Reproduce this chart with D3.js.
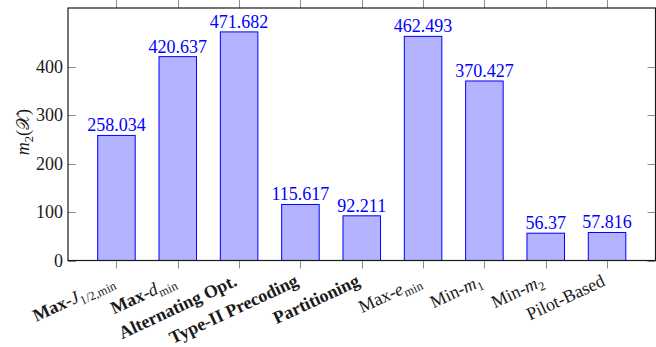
<!DOCTYPE html>
<html>
<head>
<meta charset="utf-8">
<script src="https://cdn.jsdelivr.net/npm/d3@7"></script>
<style>
  html, body { margin: 0; padding: 0; background: #fff; }
</style>
</head>
<body>
<svg id="chart" width="656" height="347"></svg>
<script>
// Second moment m2(X) per constellation design method
const categories = ["maxJ", "maxD", "altOpt", "typeII", "partition", "maxE", "minM1", "minM2", "pilot"];
const values = [258.034, 420.637, 471.682, 115.617, 92.211, 462.493, 370.427, 56.37, 57.816];
const valueLabels = ["258.034", "420.637", "471.682", "115.617", "92.211", "462.493", "370.427", "56.37", "57.816"];
// Tick label pieces: [text, style] with style b = bold, i = italic, s = subscript, n = normal
const tickLabels = [
  [["Max-", "b"], ["J", "i"], ["1/2,min", "s"]],
  [["Max-", "b"], ["d", "i"], ["min", "s"]],
  [["Alternating Opt.", "b"]],
  [["Type-II Precoding", "b"]],
  [["Partitioning", "b"]],
  [["Max-", "n"], ["e", "i"], ["min", "s"]],
  [["Min-", "n"], ["m", "i"], ["1", "s"]],
  [["Min-", "n"], ["m", "i"], ["2", "s"]],
  [["Pilot-Based", "n"]]
];
const yTicks = [0, 100, 200, 300, 400];
const yMax = 521;

const FONT = "Liberation Serif";
const svg = d3.select("#chart");
const plotLeft = 68, plotRight = 655.5, plotTop = 8, plotBottom = 260.5;

const x = d3.scalePoint().domain(categories).range([plotLeft, plotRight]).padding(0.79);
const y = d3.scaleLinear().domain([0, yMax]).range([plotBottom, plotTop]);
const barW = x.step() * 0.612;

// bars
svg.append("g").selectAll("rect")
  .data(categories)
  .join("rect")
  .attr("x", (d) => x(d) - barW / 2)
  .attr("y", (d, i) => y(values[i]))
  .attr("width", barW)
  .attr("height", (d, i) => y(0) - y(values[i]))
  .attr("fill", "#b3b3ff")
  .attr("stroke", "#0000ff")
  .attr("stroke-width", 1);

// value labels above bars
svg.append("g").selectAll("text")
  .data(categories)
  .join("text")
  .attr("x", (d) => x(d))
  .attr("y", (d, i) => y(values[i]) - 4)
  .attr("text-anchor", "middle")
  .attr("font-family", FONT)
  .attr("font-size", 18)
  .attr("fill", "#0000ff")
  .text((d, i) => valueLabels[i]);

// ticks: y inside on both sides, x outside top and bottom
const tickG = svg.append("g").attr("stroke", "#8c8c8c").attr("stroke-width", 1);
yTicks.forEach((t) => {
  const yy = Math.round(y(t)) + 0.5;
  tickG.append("line").attr("x1", plotLeft).attr("x2", plotLeft + 8).attr("y1", yy).attr("y2", yy);
  tickG.append("line").attr("x1", plotRight - 8).attr("x2", plotRight).attr("y1", yy).attr("y2", yy);
});
categories.forEach((c) => {
  const xx = Math.round(x(c)) + 0.5;
  tickG.append("line").attr("x1", xx).attr("x2", xx).attr("y1", plotBottom).attr("y2", plotBottom + 8);
  tickG.append("line").attr("x1", xx).attr("x2", xx).attr("y1", plotTop).attr("y2", 0);
});

// frame
svg.append("rect")
  .attr("x", plotLeft).attr("y", plotTop)
  .attr("width", plotRight - plotLeft).attr("height", plotBottom - plotTop)
  .attr("fill", "none").attr("stroke", "#1a1a1a").attr("stroke-width", 1.2);

// y tick labels
svg.append("g").selectAll("text")
  .data(yTicks)
  .join("text")
  .attr("x", plotLeft - 5)
  .attr("y", (d) => y(d))
  .attr("dy", "0.34em")
  .attr("text-anchor", "end")
  .attr("font-family", FONT)
  .attr("font-size", 18)
  .attr("fill", "#1a1a1a")
  .text((d) => d);

// rotated x tick labels
categories.forEach((c, i) => {
  const t = svg.append("text")
    .attr("transform", `translate(${x(c) - 3.5},${plotBottom + 19}) rotate(-25)`)
    .attr("text-anchor", "end")
    .attr("dy", "0.34em")
    .attr("font-family", FONT)
    .attr("font-size", 18)
    .attr("fill", "#1a1a1a");
  tickLabels[i].forEach(([txt, st]) => {
    const sp = t.append("tspan").text(txt);
    if (st === "b") sp.attr("font-weight", "bold");
    if (st === "i") sp.attr("font-style", "italic");
    if (st === "s") sp.attr("font-size", 12.5).attr("dy", 4);
  });
});

// y axis title m2(X)
const yt = svg.append("text")
  .attr("transform", `translate(29,132) rotate(-90)`)
  .attr("text-anchor", "middle")
  .attr("font-family", FONT)
  .attr("font-size", 18)
  .attr("fill", "#1a1a1a");
yt.append("tspan").attr("font-style", "italic").text("m");
yt.append("tspan").attr("font-size", 12.5).attr("dy", 4).text("2");
yt.append("tspan").attr("dy", -4).text("(");
yt.append("tspan").text("𝒳");
yt.append("tspan").text(")");
</script>
</body>
</html>
